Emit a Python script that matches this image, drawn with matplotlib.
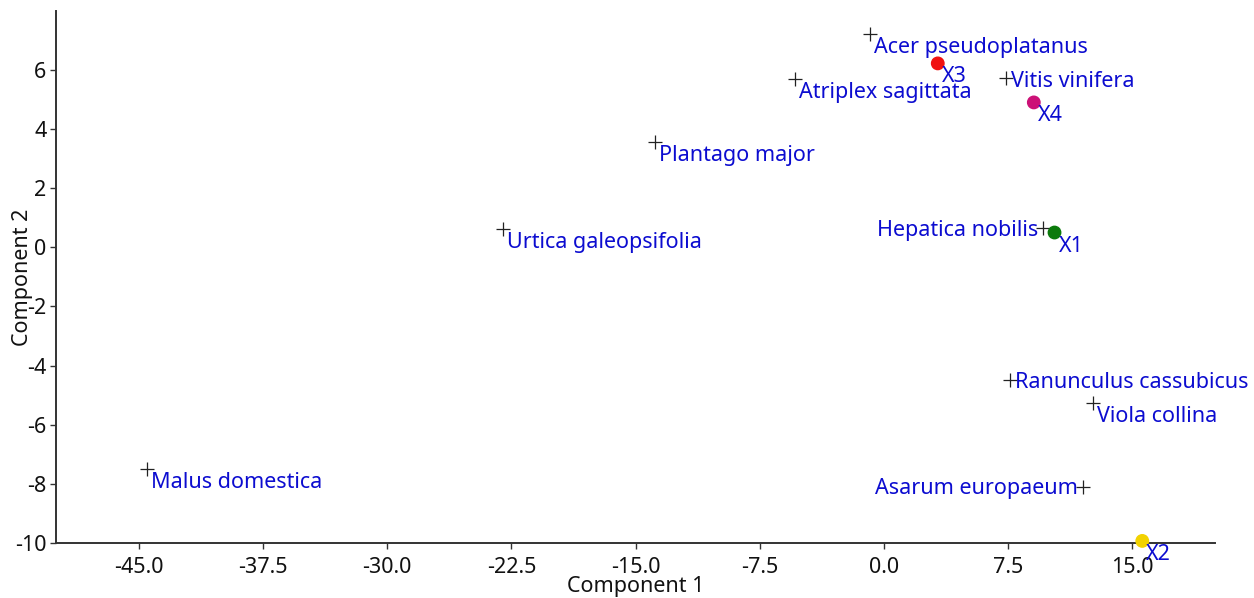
import matplotlib
matplotlib.use('Agg')
import matplotlib.pyplot as plt

# species scores (Component 1, Component 2)
species = ["Acer pseudoplatanus", "Atriplex sagittata", "Plantago major", "Urtica galeopsifolia",
           "Malus domestica", "Hepatica nobilis", "Vitis vinifera", "Ranunculus cassubicus",
           "Viola collina", "Asarum europaeum"]
species_x = [-0.85, -5.4, -13.85, -23.0, -44.5, 9.6, 7.35, 7.6, 12.6, 12.0]
species_y = [7.23, 5.68, 3.55, 0.61, -7.5, 0.65, 5.71, -4.48, -5.27, -8.1]

# sample scores
samples = ["X1", "X2", "X3", "X4"]
sample_x = [10.3, 15.6, 3.25, 9.05]
sample_y = [0.5, -9.93, 6.22, 4.9]
sample_colors = ["#0b7a0b", "#f2d200", "#f01010", "#cc1177"]

xticks = [-45.0, -37.5, -30.0, -22.5, -15.0, -7.5, 0.0, 7.5, 15.0]
yticks = [-10, -8, -6, -4, -2, 0, 2, 4, 6]

# label placement: (dx px, dy px, ha, va)
below_right = (4, -3, 'left', 'top')
right_mid = (5, -3, 'left', 'center')
left_mid = (-5, -2, 'right', 'center')
placement = {"Hepatica nobilis": left_mid, "Asarum europaeum": left_mid,
             "Vitis vinifera": right_mid, "Ranunculus cassubicus": right_mid}

plt.rcParams['font.family'] = ['Noto Sans', 'DejaVu Sans']
label_blue = '#0c0cd0'
fs = 15.5

fig = plt.figure(figsize=(12.54, 5.98), dpi=100)
ax = fig.add_axes([0.0447, 0.092, 0.9243, 0.890])

ax.plot(species_x, species_y, linestyle='none', marker='+', markersize=10,
        markeredgewidth=0.9, color='#222222')
for name, x, y in zip(species, species_x, species_y):
    dx, dy, ha, va = placement.get(name, below_right)
    ax.annotate(name, (x, y), xytext=(dx, dy), textcoords='offset pixels',
                ha=ha, va=va, fontsize=fs, color=label_blue)

ax.scatter(sample_x, sample_y, s=80, c=sample_colors, zorder=3, clip_on=False)
for name, x, y in zip(samples, sample_x, sample_y):
    ax.annotate(name, (x, y), xytext=(4, -3), textcoords='offset pixels',
                ha='left', va='top', fontsize=fs, color=label_blue)

ax.set_xlim(-50, 20)
ax.set_ylim(-10, 8)
ax.set_xticks(xticks)
ax.set_xticklabels(["{:.1f}".format(v) for v in xticks])
ax.set_yticks(yticks)
ax.set_yticklabels([str(v) for v in yticks])
ax.tick_params(labelsize=fs, length=4, width=1, pad=3, color='#333333', labelcolor='#111111')
ax.tick_params(axis='x', pad=6)

for side in ['top', 'right']:
    ax.spines[side].set_visible(False)
for side in ['left', 'bottom']:
    ax.spines[side].set_linewidth(1.4)
    ax.spines[side].set_color('#333333')

ax.set_xlabel("Component 1", fontsize=fs, color='#111111')
ax.xaxis.set_label_coords(0.5, -0.062)
ax.set_ylabel("Component 2", fontsize=fs, color='#111111')
ax.yaxis.set_label_coords(-0.020, 0.5)

plt.savefig("out.png", dpi=100)
plt.close()
